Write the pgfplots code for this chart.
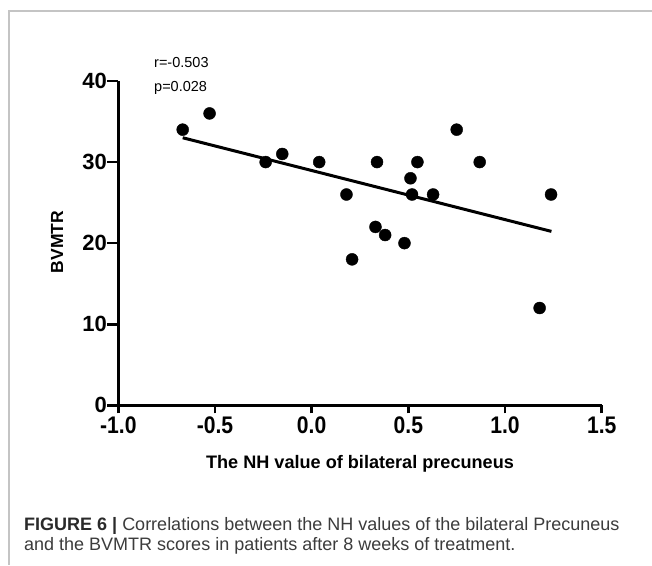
\documentclass[border=0pt]{standalone}
\usepackage{fontspec}
\setmainfont{Liberation Sans}
\newfontfamily\xtf{Liberation Sans Bold}[FakeStretch=0.88]
\usepackage{pgfplots}
\pgfplotsset{compat=1.18}
\definecolor{framegray}{HTML}{C4C4C4}
\definecolor{captxt}{HTML}{3C3C3C}
\definecolor{capbold}{HTML}{2A2A2A}
\begin{document}
\begin{tikzpicture}
\useasboundingbox (0pt,0pt) rectangle (652pt,565pt);
\fill[white] (0pt,0pt) rectangle (652pt,565pt);
\draw[framegray, line width=1.5pt] (652pt,554pt) -- (9pt,554pt) -- (9pt,0pt);
\begin{axis}[
  at={(118.3pt,159.7pt)}, anchor=south west,
  scale only axis, width=483.4pt, height=324.3pt,
  xmin=-1, xmax=1.5, ymin=0, ymax=40,
  axis x line*=bottom, axis y line*=left,
  axis line style={-, line width=2.7pt, black},
  xtick={-1,-0.5,0,0.5,1,1.5}, xticklabels={-1.0,-0.5,0.0,0.5,1.0,1.5},
  ytick={0,10,20,30,40}, yticklabels={0,10,20,30,40},
  tick align=outside, major tick length=8pt,
  tick style={line width=2.7pt, black},
  y tick style={/pgfplots/major tick length=11pt},
  xticklabel style={font=\xtf\fontsize{24}{24}\selectfont},
  yticklabel style={font=\bfseries\fontsize{22}{22}\selectfont},
  clip=false,
]
\addplot[only marks, mark=*, mark size=6pt, black] coordinates {
(-0.667,34) (-0.528,36) (-0.238,30) (-0.152,31) (0.039,30) (0.180,26)
(0.209,18) (0.330,22) (0.338,30) (0.380,21) (0.480,20) (0.511,28)
(0.519,26) (0.547,30) (0.628,26) (0.750,34) (0.869,30) (1.179,12) (1.238,26)};
\addplot[black, line width=3pt, no marks] coordinates {(-0.667,33.0) (1.24,21.45)};
\end{axis}
\node[anchor=base, inner sep=0pt, font=\bfseries\fontsize{18.1}{18.1}\selectfont] at (360pt,96.7pt) {The NH value of bilateral precuneus};
\node[rotate=90, inner sep=0pt, font=\bfseries\fontsize{17.5}{17.5}\selectfont] at (57pt,323pt) {BVMTR};
\node[anchor=base west, inner sep=0pt, font=\fontsize{14.5}{14.5}\selectfont] at (154pt,497pt) {r=-0.503};
\node[anchor=base west, inner sep=0pt, font=\fontsize{14.5}{14.5}\selectfont] at (154pt,473.3pt) {p=0.028};
\node[anchor=base west, inner sep=0pt, text=captxt, font=\fontsize{18}{20}\selectfont] at (24pt,35pt) {{\bfseries\color{capbold}FIGURE 6 |} Correlations between the NH values of the bilateral Precuneus};
\node[anchor=base west, inner sep=0pt, text=captxt, font=\fontsize{18}{20}\selectfont] at (24pt,15pt) {and the BVMTR scores in patients after 8 weeks of treatment.};
\end{tikzpicture}
\end{document}
